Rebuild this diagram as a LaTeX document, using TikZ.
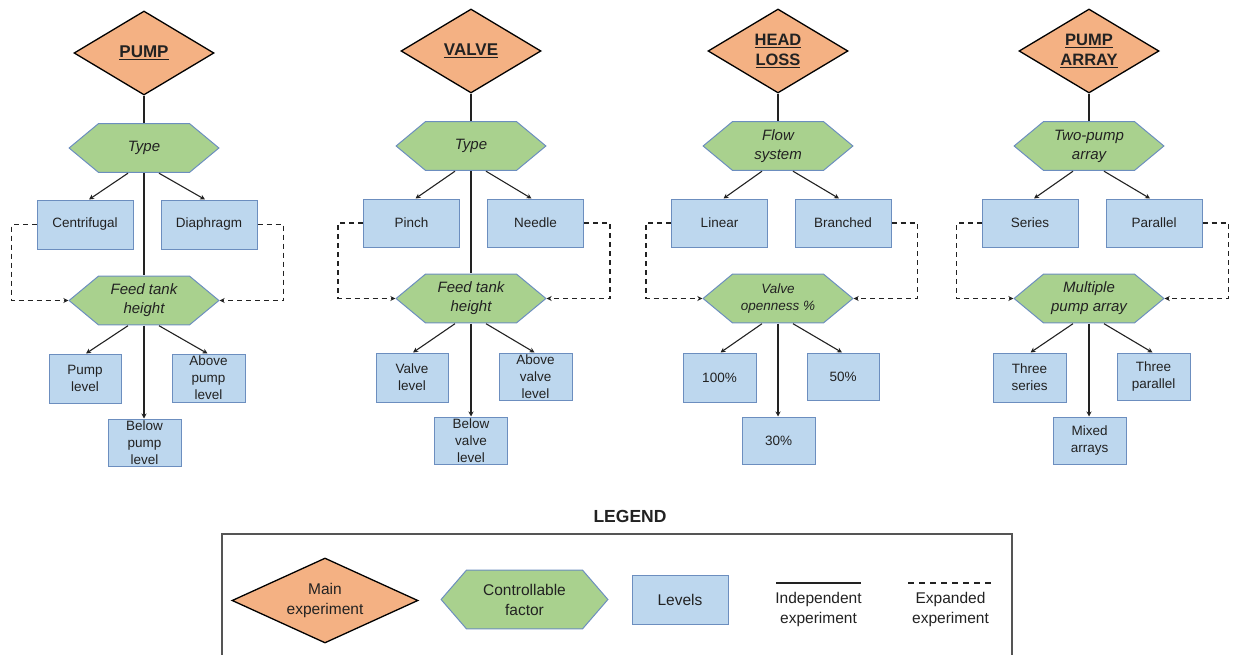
\documentclass[tikz,border=0pt]{standalone}
\usepackage{fontspec}
\setmainfont{Liberation Sans}
\usetikzlibrary{shapes.geometric,arrows.meta,calc}
\definecolor{orangefill}{HTML}{F4B183}
\definecolor{greenfill}{HTML}{A9D18E}
\definecolor{bluefill}{HTML}{BDD7EE}
\definecolor{edgeblue}{HTML}{6C8EBF}
\definecolor{txt}{HTML}{222222}
\definecolor{framegray}{HTML}{555555}
\tikzset{
  hex inset/.store in=\hexinset, hex inset=30,
  mainexp/.style={diamond, draw=black, line width=1.3pt, fill=orangefill,
    minimum width=140pt, minimum height=84pt, inner sep=0pt, aspect=1.67,
    align=center, text=txt, font=\fontsize{17}{20}\selectfont\bfseries},
  hexnode/.style={minimum width=151pt, minimum height=50pt, inner sep=0pt,
    align=center, text=txt, font=\fontsize{15}{19}\selectfont\itshape,
    path picture={
      \path[fill=greenfill, draw=edgeblue, line width=1pt]
        ($(path picture bounding box.west)+(0.6,0)$)
        -- ($(path picture bounding box.north west)+(\hexinset,0.6)$)
        -- ($(path picture bounding box.north east)+(-\hexinset,0.6)$)
        -- ($(path picture bounding box.east)+(-0.6,0)$)
        -- ($(path picture bounding box.south east)+(-\hexinset,-0.6)$)
        -- ($(path picture bounding box.south west)+(\hexinset,-0.6)$)
        -- cycle;
    }},
  typebox/.style={draw=edgeblue, line width=1pt, fill=bluefill,
    minimum width=96pt, minimum height=49pt, inner sep=0pt, align=center,
    text=txt, font=\fontsize{13.5}{17}\selectfont},
  levelbox/.style={typebox, minimum width=73pt, minimum height=48pt},
  link/.style={draw=txt, line width=1.1pt},
  arr/.style={link, -{Stealth[length=5pt,width=5pt]}},
  expand/.style={arr, dash pattern=on 5pt off 4pt},
  legtext/.style={align=center, text=txt, font=\fontsize{15.5}{20}\selectfont},
}
\begin{document}
\begin{tikzpicture}[x=1pt,y=-1pt]
\useasboundingbox (0,0) rectangle (1233,655);

% ---------------- Column 1: PUMP
\node[mainexp] (d1) at (144,53) {\underline{PUMP}};
\node[hexnode] (t1) at (144,148) {Type};
\node[typebox] (b11) at (85,224.5) {Centrifugal};
\node[typebox] (b12) at (209,224.5) {Diaphragm};
\node[hexnode] (f1) at (144,300.5) {Feed tank\\height};
\node[levelbox, minimum width=72pt, minimum height=49pt] (l11) at (85,378.5) {Pump\\level};
\node[levelbox] (l12) at (208.5,378) {Above\\pump\\level};
\node[levelbox, minimum height=47pt] (l13) at (144.5,442.5) {Below\\pump\\level};

% ---------------- Column 2: VALVE
\node[mainexp] (d2) at (471,51) {\underline{VALVE}};
\node[hexnode] (t2) at (471,146) {Type};
\node[typebox, minimum height=48pt] (b21) at (411.5,223) {Pinch};
\node[typebox, minimum height=48pt] (b22) at (535.5,223) {Needle};
\node[hexnode] (f2) at (471,298.5) {Feed tank\\height};
\node[levelbox, minimum width=72pt, minimum height=49pt] (l21) at (412,377.5) {Valve\\level};
\node[levelbox, minimum height=47pt] (l22) at (535.5,376.5) {Above\\valve\\level};
\node[levelbox, minimum height=47pt] (l23) at (471,440.5) {Below\\valve\\level};

% ---------------- Column 3: HEAD LOSS
\node[mainexp, font=\fontsize{16.5}{20}\selectfont\bfseries] (d3) at (778,51) {\underline{HEAD}\\\underline{LOSS}};
\node[hexnode] (t3) at (778,146) {Flow\\system};
\node[typebox, minimum height=48pt] (b31) at (719.5,223) {Linear};
\node[typebox, minimum height=48pt] (b32) at (843,223) {Branched};
\node[hexnode, font=\fontsize{13.5}{17}\selectfont\itshape] (f3) at (778,298.5) {Valve\\openness \%};
\node[levelbox, minimum height=49pt] (l31) at (719.5,377.5) {100\%};
\node[levelbox, minimum width=72pt, minimum height=47pt] (l32) at (843,376.5) {50\%};
\node[levelbox, minimum height=47pt] (l33) at (778.5,440.5) {30\%};

% ---------------- Column 4: PUMP ARRAY
\node[mainexp, font=\fontsize{16.5}{20}\selectfont\bfseries] (d4) at (1089,51) {\underline{PUMP}\\\underline{ARRAY}};
\node[hexnode] (t4) at (1089,146) {Two-pump\\array};
\node[typebox, minimum height=48pt] (b41) at (1030,223) {Series};
\node[typebox, minimum height=48pt] (b42) at (1154,223) {Parallel};
\node[hexnode] (f4) at (1089,298.5) {Multiple\\pump array};
\node[levelbox, minimum height=49pt] (l41) at (1029.5,377.5) {Three\\series};
\node[levelbox, minimum height=47pt] (l42) at (1153.5,376.5) {Three\\parallel};
\node[levelbox, minimum height=47pt] (l43) at (1089.5,440.5) {Mixed\\arrays};

% ---------------- Connectors
\foreach \c in {1,2,3,4}{
  \draw[link] (d\c.south) -- (t\c.north);
  \draw[arr] ([xshift=-16pt]t\c.south) -- ([xshift=4pt]b\c1.north);
  \draw[arr] ([xshift=15pt]t\c.south) -- ([xshift=-4pt]b\c2.north);
  \draw[expand] (b\c1.west) -- ++(-25,0) |- (f\c.west);
  \draw[expand] (b\c2.east) -- ++(26,0) |- (f\c.east);
  \draw[arr] ([xshift=-16pt]f\c.south) -- ([xshift=1pt]l\c1.north);
  \draw[arr] ([xshift=15pt]f\c.south) -- ([xshift=-1pt]l\c2.north);
  \draw[arr] (f\c.south) -- (f\c.south |- l\c3.north);
}
\draw[link] (t1.south) -- (f1.north);
\draw[link] (t2.south) -- (f2.north);

% ---------------- Legend
\node[font=\fontsize{17.5}{20}\selectfont\bfseries, text=txt] (legtitle) at (630,516) {LEGEND};
\draw[framegray, line width=1.2pt] (222,656) -- (222,534) -- (1012,534) -- (1012,656);
\node[mainexp, minimum width=186pt, minimum height=85pt, aspect=2.19,
      font=\fontsize{15.5}{20}\selectfont] (lgd) at (325,600.5) {Main\\experiment};
\node[hexnode, hex inset=26, minimum width=168pt, minimum height=60pt,
      font=\fontsize{15.5}{20}\selectfont] (lgh) at (524.5,599.5) {Controllable\\factor};
\node[typebox, font=\fontsize{15.5}{20}\selectfont] (lgb) at (680,599.5) {Levels};
\coordinate (s1) at (776,583);
\coordinate (s2) at (861,583);
\draw[draw=txt, line width=1.3pt] (s1) -- (s2);
\node[legtext] (lgs) at (818.5,609) {Independent\\experiment};
\coordinate (e1) at (908,583);
\coordinate (e2) at (993,583);
\draw[draw=txt, line width=1.3pt, dash pattern=on 6pt off 5pt] (e1) -- (e2);
\node[legtext] (lge) at (950.5,609) {Expanded\\experiment};
\end{tikzpicture}
\end{document}
